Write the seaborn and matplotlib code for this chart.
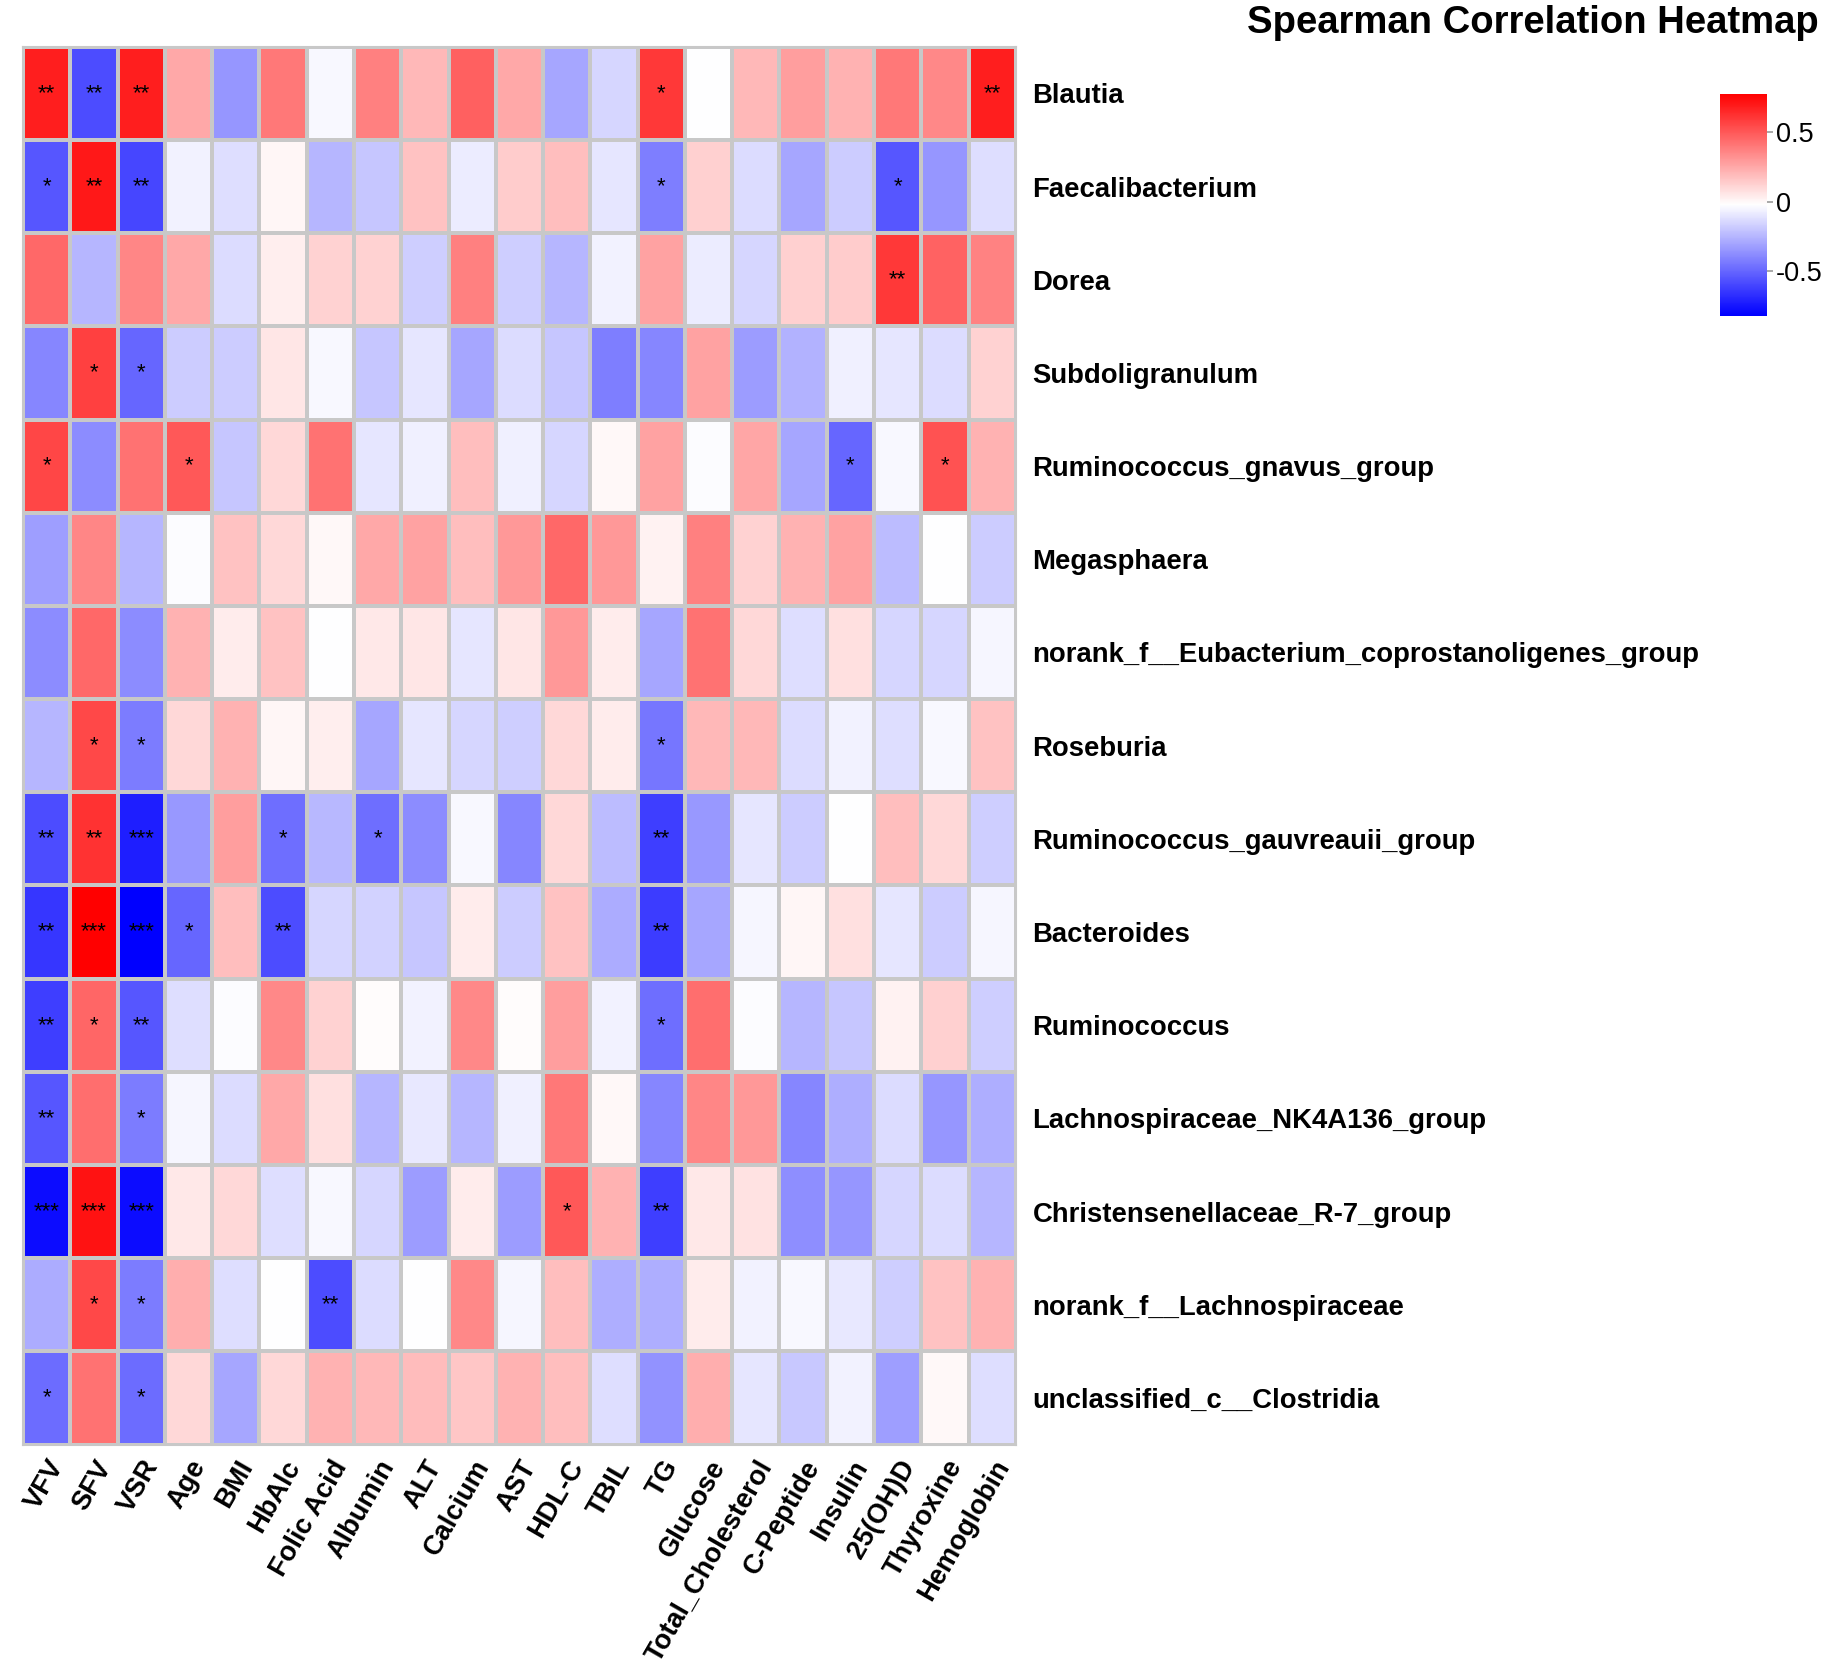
import numpy as np
import pandas as pd
import matplotlib
matplotlib.use("Agg")
import matplotlib.pyplot as plt
import seaborn as sns
from matplotlib.colors import LinearSegmentedColormap

genera = ["Blautia", "Faecalibacterium", "Dorea", "Subdoligranulum",
          "Ruminococcus_gnavus_group", "Megasphaera",
          "norank_f__Eubacterium_coprostanoligenes_group", "Roseburia",
          "Ruminococcus_gauvreauii_group", "Bacteroides", "Ruminococcus",
          "Lachnospiraceae_NK4A136_group", "Christensenellaceae_R-7_group",
          "norank_f__Lachnospiraceae", "unclassified_c__Clostridia"]

variables = ["VFV", "SFV", "VSR", "Age", "BMI", "HbAlc", "Folic Acid", "Albumin",
             "ALT", "Calcium", "AST", "HDL-C", "TBIL", "TG", "Glucose",
             "Total_Cholesterol", "C-Peptide", "Insulin", "25(OH)D", "Thyroxine",
             "Hemoglobin"]

r_blautia = [0.68, -0.58, 0.68, 0.25, -0.35, 0.40, -0.04, 0.38, 0.20, 0.48, 0.25, -0.30, -0.15, 0.60, -0.02, 0.20, 0.28, 0.22, 0.40, 0.35, 0.68]
r_faecali = [-0.55, 0.70, -0.60, -0.06, -0.12, 0.01, -0.25, -0.20, 0.17, -0.08, 0.14, 0.18, -0.10, -0.42, 0.13, -0.13, -0.30, -0.18, -0.55, -0.35, -0.12]
r_dorea = [0.45, -0.25, 0.36, 0.25, -0.13, 0.03, 0.12, 0.12, -0.17, 0.38, -0.17, -0.25, -0.06, 0.27, -0.08, -0.15, 0.13, 0.14, 0.60, 0.47, 0.37]
r_subdol = [-0.40, 0.58, -0.50, -0.18, -0.18, 0.06, -0.04, -0.20, -0.10, -0.30, -0.13, -0.20, -0.42, -0.40, 0.27, -0.33, -0.26, -0.07, -0.10, -0.13, 0.12]
r_gnavus = [0.56, -0.38, 0.42, 0.50, -0.20, 0.10, 0.42, -0.10, -0.07, 0.18, -0.07, -0.15, 0.00, 0.27, -0.03, 0.26, -0.30, -0.50, -0.04, 0.52, 0.22]
r_megasph = [-0.32, 0.36, -0.25, -0.03, 0.17, 0.10, 0.00, 0.25, 0.27, 0.18, 0.30, 0.45, 0.30, 0.02, 0.38, 0.12, 0.22, 0.27, -0.23, -0.02, -0.18]
r_eubact = [-0.38, 0.45, -0.38, 0.22, 0.04, 0.17, -0.02, 0.05, 0.06, -0.10, 0.06, 0.30, 0.04, -0.30, 0.42, 0.10, -0.12, 0.08, -0.15, -0.15, -0.05]
r_roseb = [-0.25, 0.55, -0.43, 0.10, 0.22, 0.01, 0.03, -0.30, -0.10, -0.15, -0.17, 0.10, 0.04, -0.45, 0.20, 0.20, -0.13, -0.06, -0.12, -0.04, 0.17]
r_gauvr = [-0.58, 0.62, -0.72, -0.34, 0.28, -0.47, -0.24, -0.47, -0.38, -0.04, -0.40, 0.10, -0.23, -0.62, -0.34, -0.10, -0.18, -0.02, 0.18, 0.10, -0.17]
r_bacter = [-0.65, 0.78, -0.82, -0.50, 0.18, -0.58, -0.15, -0.16, -0.20, 0.04, -0.18, 0.17, -0.28, -0.63, -0.30, -0.05, 0.01, 0.08, -0.10, -0.18, -0.05]
r_rumino = [-0.62, 0.46, -0.55, -0.12, -0.03, 0.35, 0.12, -0.01, -0.06, 0.35, -0.01, 0.28, -0.06, -0.47, 0.43, -0.03, -0.25, -0.20, 0.02, 0.13, -0.17]
r_nk4a = [-0.55, 0.43, -0.43, -0.05, -0.13, 0.25, 0.08, -0.25, -0.09, -0.25, -0.07, 0.40, 0.00, -0.40, 0.36, 0.30, -0.40, -0.27, -0.13, -0.35, -0.27]
r_christ = [-0.78, 0.72, -0.78, 0.05, 0.10, -0.12, -0.04, -0.15, -0.33, 0.04, -0.33, 0.50, 0.22, -0.62, 0.05, 0.07, -0.37, -0.35, -0.15, -0.13, -0.25]
r_lachno = [-0.28, 0.55, -0.43, 0.23, -0.12, -0.02, -0.58, -0.13, -0.02, 0.35, -0.05, 0.18, -0.27, -0.27, 0.04, -0.06, -0.04, -0.09, -0.17, 0.17, 0.22]
r_clostr = [-0.48, 0.42, -0.48, 0.10, -0.30, 0.10, 0.22, 0.20, 0.19, 0.16, 0.22, 0.18, -0.12, -0.36, 0.23, -0.10, -0.19, -0.06, -0.32, 0.00, -0.12]

s_blautia = ["**", "**", "**", "", "", "", "", "", "", "", "", "", "", "*", "", "", "", "", "", "", "**"]
s_faecali = ["*", "**", "**", "", "", "", "", "", "", "", "", "", "", "*", "", "", "", "", "*", "", ""]
s_dorea = ["", "", "", "", "", "", "", "", "", "", "", "", "", "", "", "", "", "", "**", "", ""]
s_subdol = ["", "*", "*", "", "", "", "", "", "", "", "", "", "", "", "", "", "", "", "", "", ""]
s_gnavus = ["*", "", "", "*", "", "", "", "", "", "", "", "", "", "", "", "", "", "*", "", "*", ""]
s_megasph = [""] * 21
s_eubact = [""] * 21
s_roseb = ["", "*", "*", "", "", "", "", "", "", "", "", "", "", "*", "", "", "", "", "", "", ""]
s_gauvr = ["**", "**", "***", "", "", "*", "", "*", "", "", "", "", "", "**", "", "", "", "", "", "", ""]
s_bacter = ["**", "***", "***", "*", "", "**", "", "", "", "", "", "", "", "**", "", "", "", "", "", "", ""]
s_rumino = ["**", "*", "**", "", "", "", "", "", "", "", "", "", "", "*", "", "", "", "", "", "", ""]
s_nk4a = ["**", "", "*", "", "", "", "", "", "", "", "", "", "", "", "", "", "", "", "", "", ""]
s_christ = ["***", "***", "***", "", "", "", "", "", "", "", "", "*", "", "**", "", "", "", "", "", "", ""]
s_lachno = ["", "*", "*", "", "", "", "**", "", "", "", "", "", "", "", "", "", "", "", "", "", ""]
s_clostr = ["*", "", "*", "", "", "", "", "", "", "", "", "", "", "", "", "", "", "", "", "", ""]

rvals = [r_blautia, r_faecali, r_dorea, r_subdol, r_gnavus, r_megasph, r_eubact,
         r_roseb, r_gauvr, r_bacter, r_rumino, r_nk4a, r_christ, r_lachno, r_clostr]
stars = [s_blautia, s_faecali, s_dorea, s_subdol, s_gnavus, s_megasph, s_eubact,
         s_roseb, s_gauvr, s_bacter, s_rumino, s_nk4a, s_christ, s_lachno, s_clostr]

df = pd.DataFrame(rvals, index=genera, columns=variables)
annot = pd.DataFrame(stars, index=genera, columns=variables)

plt.rcParams['font.family'] = ['Liberation Sans', 'DejaVu Sans']

cmap = LinearSegmentedColormap.from_list("bwr_ph", ["#0000FF", "#FFFFFF", "#FF0000"], N=256)

fig = plt.figure(figsize=(18.31, 16.70), dpi=100)
ax = fig.add_axes([0.0126, 0.135, 0.5422, 0.837])
cax = fig.add_axes([0.9395, 0.811, 0.0257, 0.133])

sns.heatmap(df, ax=ax, cbar_ax=cax, cmap=cmap, vmin=-0.82, vmax=0.78,
            annot=annot, fmt="", annot_kws={"fontsize": 16, "color": "black"},
            linewidths=1.5, linecolor="#C8C8C8",
            cbar_kws={"ticks": [-0.5, 0, 0.5]})

ax.yaxis.tick_right()
ax.set_yticklabels(genera, rotation=0, fontsize=19.8, fontweight="bold")
ax.set_xticklabels(variables, rotation=60, fontsize=19.6, fontweight="bold",
                   ha="right", va="top", rotation_mode="anchor")
ax.tick_params(axis="y", length=0, pad=12)
ax.tick_params(axis="x", length=0, pad=8)
ax.set_xlabel("")
ax.set_ylabel("")
for sp in ax.spines.values():
    sp.set_visible(True)
    sp.set_color("#C8C8C8")
    sp.set_linewidth(1.5)

cax.set_yticklabels(["-0.5", "0", "0.5"], fontsize=19.5)
cax.tick_params(length=4, color="#999999", width=1.2, pad=2)
for sp in cax.spines.values():
    sp.set_visible(False)

fig.text(0.9935, 0.986, "Spearman Correlation Heatmap", ha="right", va="center",
         fontsize=27.5, fontweight="bold")

fig.savefig("out.png", dpi=100)
